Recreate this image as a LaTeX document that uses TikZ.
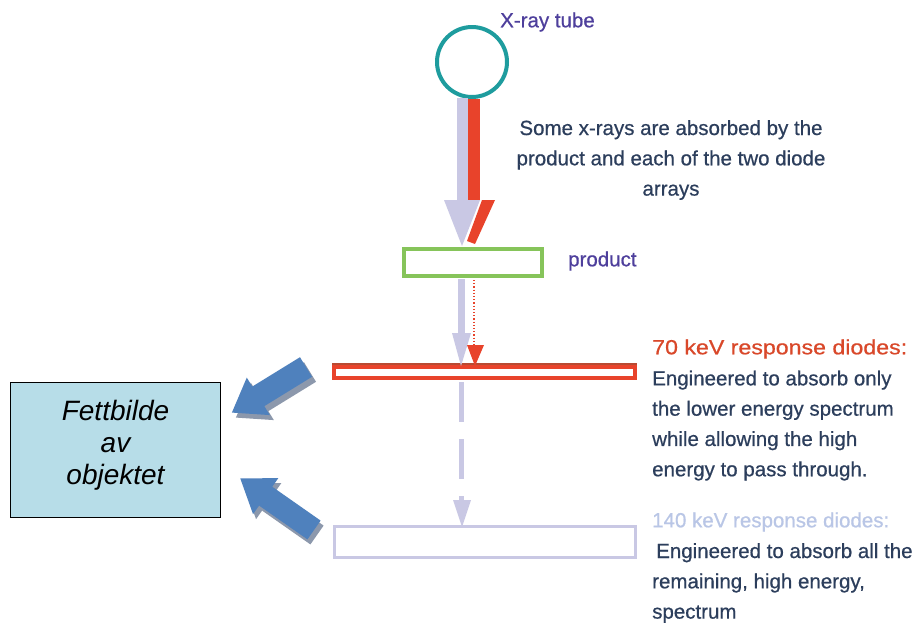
\documentclass[tikz,border=0pt]{standalone}
\usepackage{fontspec}
\setmainfont[FakeBold=0.6]{Liberation Sans}
\newfontfamily\plainsans{Liberation Sans}
\usetikzlibrary{arrows.meta,calc}
\definecolor{teal1}{HTML}{1E9C9E}
\definecolor{lav}{HTML}{C9C8E4}
\definecolor{redA}{HTML}{E8432B}
\definecolor{redD}{HTML}{B84A32}
\definecolor{greenA}{HTML}{86C45A}
\definecolor{purp}{HTML}{4E3F9C}
\definecolor{slate}{HTML}{2C3E5C}
\definecolor{orangered}{HTML}{D9482A}
\definecolor{lightlav}{HTML}{B9C6E6}
\definecolor{boxblue}{HTML}{B7DDE8}
\definecolor{arrblue}{HTML}{4F81BD}
\definecolor{shadowgray}{HTML}{8C98AC}
\newcommand\bluearrow[5]{%
  \begin{scope}[shift={(#1,#2)}, rotate=#3]
  \fill[#5] (0,-11.5) -- ({#4-31},-11.5) -- ({#4-31},-22) -- (#4,0) -- ({#4-31},22) -- ({#4-31},11.5) -- (0,11.5) -- cycle;
  \end{scope}}
\tikzset{
  txt/.style={font=\fontsize{20.5}{30.3}\selectfont, inner sep=0, align=left},
  bar/.style={minimum width=301, minimum height=11, inner sep=0},
}
\begin{document}
\begin{tikzpicture}[x=1pt,y=-1pt]
\useasboundingbox (0,0) rectangle (915,630);
\fill[white] (0,0) rectangle (915,630);

% tube
\node[circle, draw=teal1, line width=4, minimum size=70, inner sep=0] (tube) at (472,62) {};
\node[txt, text=purp, anchor=west] (tubelbl) at (500,22) {X-ray tube};

% product
\node[draw=greenA, line width=4, minimum width=138, minimum height=27, inner sep=0] (prod) at (473,262.5) {};
\node[txt, text=purp, anchor=west] (prodlbl) at (568,261) {product};

% diode arrays
\node[bar, draw=redA, line width=4] (d70) at (484.5,372.5) {};
\draw[redD, line width=2] ([yshift=1]d70.north west) -- ([yshift=1]d70.north east);
\node[bar, draw=lav, line width=3, minimum height=31] (d140) at (484.5,541.5) {};

% upper beams
\coordinate (a1) at (462.5,98);
\coordinate (a2) at (462.5,200);
\fill[lav] ($(a1)+(-5.5,0)$) rectangle ($(a2)+(5.5,0)$);
\fill[lav] (444,200) -- (480,200) -- (462,246) -- cycle;
\fill[redA] (468,99) rectangle (480,200);
\fill[redA] (482,200) -- (495,200) -- (475,244) -- (467,241) -- cycle;

% middle beams
\fill[lav] (458,279) rectangle (465,334);
\fill[lav] (452,333) -- (471,333) -- (461,366) -- cycle;
\draw[redA, line width=1.2, dotted] (474,280) -- (474,346);
\fill[redA] (467,345) -- (484,345) -- (475,366) -- cycle;

% lower beam
\draw[lav, line width=5, dash pattern=on 40 off 17] (461,382) -- (461,500);
\fill[lav] (453,500) -- (471,500) -- (462,527) -- cycle;

% texts
\node[txt, text=slate, align=center] (absorb) at (671,160) {Some x-rays are absorbed by the\\product and each of the two diode\\arrays};
\node[txt, text=orangered, anchor=west] (l70) at (652,349) {\scalebox{1.13}[1]{70 keV response diodes:}};
\node[txt, text=slate, anchor=west] (t70) at (652,425.5) {Engineered to absorb only\\the lower energy spectrum\\while allowing the high\\energy to pass through.};
\node[txt, text=lightlav, anchor=west] (l140) at (652,522) {140 keV response diodes:};
\node[txt, text=slate, anchor=west] (t140) at (652,583) {\hspace{4pt}Engineered to absorb all the\\remaining, high energy,\\spectrum};

% result box
\node[draw=black, fill=boxblue, line width=1.5, minimum width=210, minimum height=135, inner sep=0] (fett) at (115.5,450) {};
\node[align=center, inner sep=0, font=\plainsans\fontsize{28}{32}\selectfont\itshape] (fetttxt) at (115.5,445) {Fettbilde\\av\\objektet};

% block arrows
\bluearrow{310}{372}{211.6}{87}{shadowgray}
\bluearrow{306}{367}{211.6}{87}{arrblue}
\bluearrow{317}{535}{145}{90}{shadowgray}
\bluearrow{314}{530}{145}{90}{arrblue}
\end{tikzpicture}
\end{document}
